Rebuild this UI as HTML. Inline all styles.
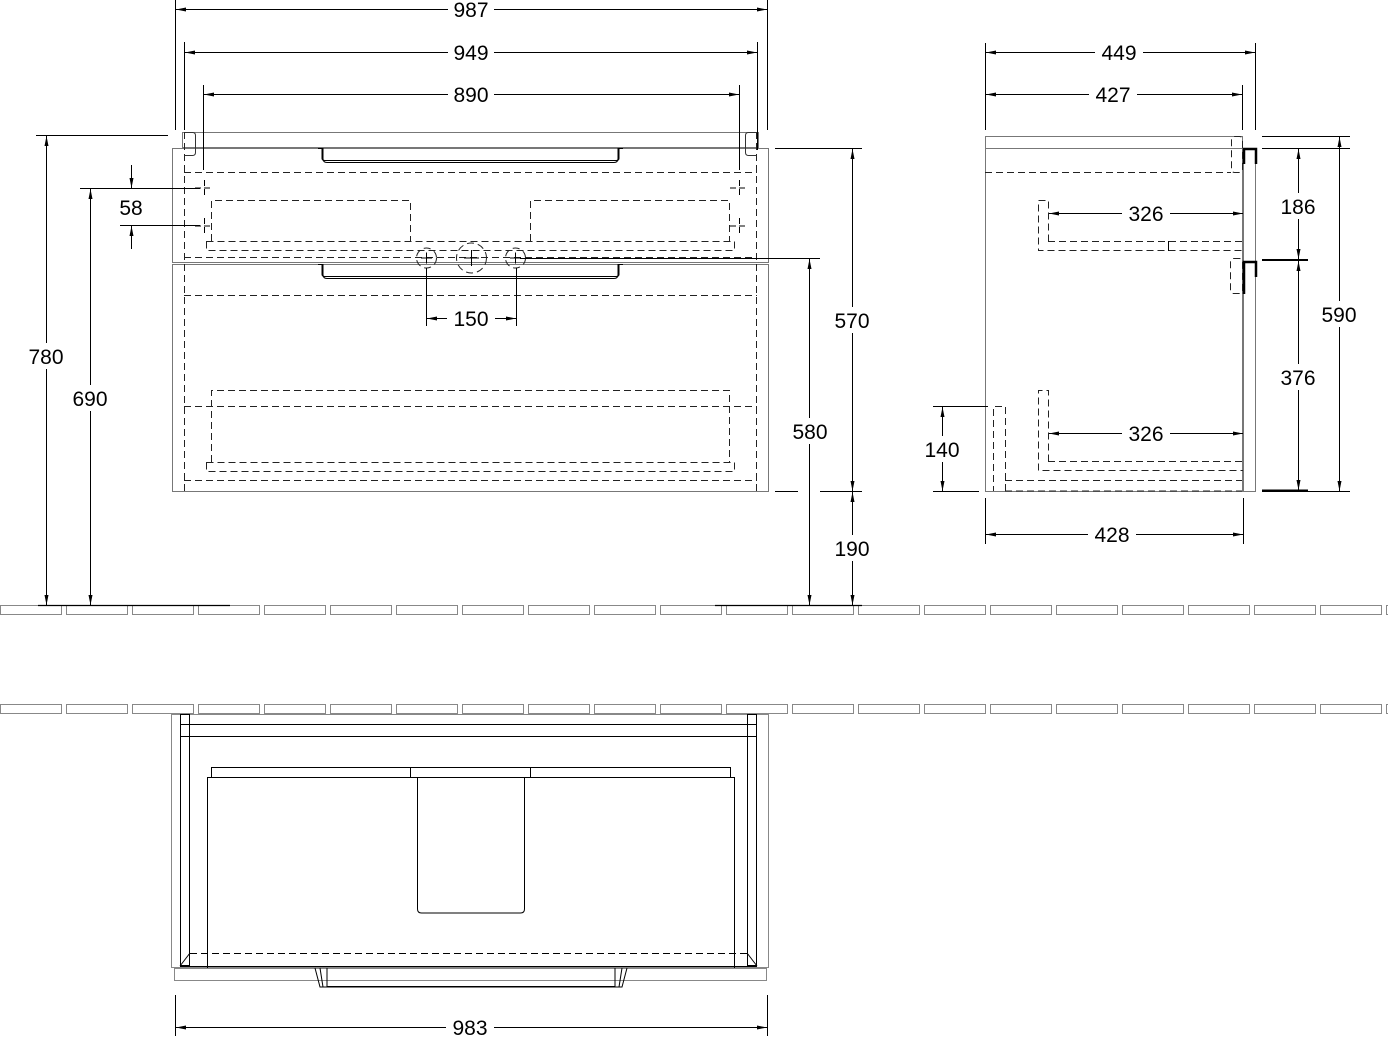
<!DOCTYPE html>
<html><head><meta charset="utf-8"><style>
html,body{margin:0;padding:0;background:#fff;}
svg{display:block;}
text{font-family:"Liberation Sans",sans-serif;font-size:21px;fill:#000;text-anchor:middle;}
.t{fill:#fff;stroke:none;}
</style></head><body>
<svg width="1388" height="1038" viewBox="0 0 1388 1038" xmlns="http://www.w3.org/2000/svg">
<defs>
<marker id="a" viewBox="0 0 10 4" refX="10" refY="2" markerWidth="10" markerHeight="4" markerUnits="userSpaceOnUse" orient="auto-start-reverse"><path d="M0,0L10,2L0,4z" fill="#000"/></marker>
<pattern id="brick" x="0" y="0" width="66" height="10" patternUnits="userSpaceOnUse"><rect x="0.5" y="0.5" width="61" height="9" fill="none" stroke="#888" stroke-width="1"/></pattern>
</defs>
<g fill="none" stroke="#000" stroke-width="1">

<!-- bricks -->
<g transform="translate(0,605)"><rect x="0" y="0" width="1388" height="10" fill="url(#brick)" stroke="none"/></g>
<g transform="translate(0,704)"><rect x="0" y="0" width="1388" height="10" fill="url(#brick)" stroke="none"/></g>
<line x1="38" y1="605.5" x2="230" y2="605.5" stroke-width="1.2"/>
<line x1="715" y1="605.5" x2="862" y2="605.5" stroke-width="1.2"/>

<!-- FRONT VIEW -->
<g stroke="#777">
<rect x="182.5" y="132.5" width="576" height="15"/>
<rect x="172.5" y="148.5" width="596" height="114"/>
<rect x="172.5" y="264.5" width="596" height="227"/>
</g>
<g stroke-dasharray="7,4" stroke="#222">
<line x1="184.5" y1="132" x2="184.5" y2="491"/>
<line x1="756.5" y1="132" x2="756.5" y2="491"/>
<line x1="184" y1="172.5" x2="757" y2="172.5"/>
<line x1="184" y1="295.5" x2="757" y2="295.5"/>
<line x1="184" y1="406.5" x2="757" y2="406.5"/>
<line x1="184" y1="480.5" x2="757" y2="480.5"/>
<polyline points="211.5,241 211.5,200.5 410.5,200.5 410.5,241"/>
<polyline points="530.5,241 530.5,200.5 729.5,200.5 729.5,241"/>
<rect x="206.5" y="241.5" width="528" height="9"/>
<line x1="184" y1="257.5" x2="757" y2="257.5"/>
<polyline points="211.5,462 211.5,390.5 729.5,390.5 729.5,462"/>
<rect x="206.5" y="462.5" width="528" height="9"/>
<circle cx="426.5" cy="258" r="10"/>
<circle cx="471.5" cy="258" r="15"/>
<circle cx="515.5" cy="258" r="10"/>
</g>
<g>
<path d="M184.5,132.5 h8 q3,0 3,3 v17 q0,3 -3,3 h-8" stroke="#333"/>
<path d="M756.5,132.5 h-8 q-3,0 -3,3 v17 q0,3 3,3 h8" stroke="#333"/>
<path d="M318,148.5 h5 v10 q0,4 4,4 h287 q4,0 4,-4 v-10 h5"/>
<path d="M322,148.5 v10 q0,2 3,2 h291 q3,0 3,-2 v-10"/>
<path d="M318,264.5 h5 v10 q0,4 4,4 h287 q4,0 4,-4 v-10 h5"/>
<path d="M322,264.5 v10 q0,2 3,2 h291 q3,0 3,-2 v-10"/>
<path d="M421,258h11M426.5,252.5v11M464,258h15M471.5,250v16M510,258h11M515.5,252.5v11"/>
<path d="M195,188h18M204.5,180v16M195,226h18M204.5,218v16M730,188h18M739.5,180v16M730,226h18M739.5,218v16" stroke-dasharray="6,3"/>
</g>

<!-- front dims -->
<line x1="175.5" y1="0" x2="175.5" y2="130"/>
<line x1="767.5" y1="0" x2="767.5" y2="130"/>
<line x1="176" y1="9.5" x2="767" y2="9.5" marker-start="url(#a)" marker-end="url(#a)"/>
<rect class="t" x="448" y="0" width="46" height="20"/><text x="471" y="17" stroke="none">987</text>
<line x1="184.5" y1="42" x2="184.5" y2="130"/>
<line x1="757.5" y1="42" x2="757.5" y2="150"/>
<line x1="185" y1="52.5" x2="757" y2="52.5" marker-start="url(#a)" marker-end="url(#a)"/>
<rect class="t" x="448" y="42" width="46" height="20"/><text x="471" y="60" stroke="none">949</text>
<line x1="203.5" y1="85" x2="203.5" y2="170"/>
<line x1="739.5" y1="85" x2="739.5" y2="170"/>
<line x1="204" y1="94.5" x2="739" y2="94.5" marker-start="url(#a)" marker-end="url(#a)"/>
<rect class="t" x="448" y="84" width="46" height="20"/><text x="471" y="102" stroke="none">890</text>

<line x1="36" y1="135.5" x2="168" y2="135.5"/>
<line x1="46.5" y1="136" x2="46.5" y2="605" marker-start="url(#a)" marker-end="url(#a)"/>
<rect class="t" x="24" y="343" width="46" height="26"/><text x="46" y="364" stroke="none">780</text>
<line x1="80" y1="188.5" x2="200" y2="188.5"/>
<line x1="90.5" y1="189" x2="90.5" y2="605" marker-start="url(#a)" marker-end="url(#a)"/>
<rect class="t" x="68" y="385" width="46" height="26"/><text x="90" y="406" stroke="none">690</text>
<line x1="120" y1="225.5" x2="200" y2="225.5"/>
<line x1="131.5" y1="165" x2="131.5" y2="188" marker-end="url(#a)"/>
<line x1="131.5" y1="249" x2="131.5" y2="226" marker-end="url(#a)"/>
<text x="131" y="215" stroke="none">58</text>

<line x1="426.5" y1="268" x2="426.5" y2="326"/>
<line x1="516.5" y1="268" x2="516.5" y2="326"/>
<line x1="427" y1="318.5" x2="516" y2="318.5" marker-start="url(#a)" marker-end="url(#a)"/>
<rect class="t" x="447" y="306" width="48" height="24"/><text x="471" y="326" stroke="none">150</text>

<line x1="775" y1="148.5" x2="862" y2="148.5"/>
<line x1="775" y1="491.5" x2="798" y2="491.5"/>
<line x1="820" y1="491.5" x2="862" y2="491.5"/>
<line x1="852.5" y1="149" x2="852.5" y2="491" marker-start="url(#a)" marker-end="url(#a)"/>
<rect class="t" x="828" y="307" width="48" height="26"/><text x="852" y="328" stroke="none">570</text>
<line x1="852.5" y1="492" x2="852.5" y2="605" marker-start="url(#a)" marker-end="url(#a)"/>
<rect class="t" x="828" y="535" width="48" height="26"/><text x="852" y="556" stroke="none">190</text>
<line x1="520" y1="258.5" x2="820" y2="258.5"/>
<line x1="809.5" y1="259" x2="809.5" y2="605" marker-start="url(#a)" marker-end="url(#a)"/>
<rect class="t" x="786" y="418" width="48" height="26"/><text x="810" y="439" stroke="none">580</text>

<!-- SIDE VIEW -->
<g stroke="#777">
<rect x="985.5" y="136.5" width="257" height="355"/>
<line x1="985" y1="148.5" x2="1242" y2="148.5"/>
<rect x="1243.5" y="148.5" width="12" height="343"/>
</g>
<g stroke-dasharray="7,4" stroke="#222">
<line x1="985" y1="172.5" x2="1231" y2="172.5"/>
<rect x="1231.5" y="136.5" width="11" height="36" rx="3"/>
<rect x="1230.5" y="258.5" width="12" height="35" rx="3"/>
<polyline points="1048.5,241.5 1048.5,200.5 1038.5,200.5 1038.5,250.5 1243,250.5"/>
<line x1="1048" y1="241.5" x2="1243" y2="241.5"/>
<polyline points="1048.5,461.5 1048.5,390.5 1038.5,390.5 1038.5,470.5 1243,470.5"/>
<line x1="1048" y1="461.5" x2="1243" y2="461.5"/>
<polyline points="1005.5,491 1005.5,406.5 993.5,406.5 993.5,491"/>
<line x1="1005" y1="480.5" x2="1242" y2="480.5"/>
<line x1="1005" y1="491" x2="1242" y2="491"/>
</g>
<g stroke-width="2.5">
<path d="M1244,164 v-15 h12 v15"/>
<path d="M1244,294 v-32 h12 v15"/>
</g>
<line x1="1168.5" y1="241" x2="1168.5" y2="251"/>
<line x1="1262" y1="148.5" x2="1350" y2="148.5"/>
<line x1="1262" y1="136.5" x2="1350" y2="136.5"/>
<line x1="1262" y1="260" x2="1308" y2="260" stroke-width="2"/>
<line x1="1262" y1="490.5" x2="1308" y2="490.5" stroke-width="2"/>
<line x1="1262" y1="491.5" x2="1350" y2="491.5"/>
<line x1="1298.5" y1="149" x2="1298.5" y2="259" marker-start="url(#a)" marker-end="url(#a)"/>
<rect class="t" x="1274" y="193" width="48" height="26"/><text x="1298" y="214" stroke="none">186</text>
<line x1="1298.5" y1="261" x2="1298.5" y2="490" marker-start="url(#a)" marker-end="url(#a)"/>
<rect class="t" x="1274" y="364" width="48" height="26"/><text x="1298" y="385" stroke="none">376</text>
<line x1="1339.5" y1="137" x2="1339.5" y2="491" marker-start="url(#a)" marker-end="url(#a)"/>
<rect class="t" x="1315" y="301" width="48" height="26"/><text x="1339" y="322" stroke="none">590</text>
<line x1="985.5" y1="43" x2="985.5" y2="130"/>
<line x1="1255.5" y1="43" x2="1255.5" y2="130"/>
<line x1="986" y1="52.5" x2="1255" y2="52.5" marker-start="url(#a)" marker-end="url(#a)"/>
<rect class="t" x="1095" y="42" width="48" height="20"/><text x="1119" y="60" stroke="none">449</text>
<line x1="1242.5" y1="85" x2="1242.5" y2="130"/>
<line x1="986" y1="94.5" x2="1242" y2="94.5" marker-start="url(#a)" marker-end="url(#a)"/>
<rect class="t" x="1089" y="84" width="48" height="20"/><text x="1113" y="102" stroke="none">427</text>
<line x1="1049" y1="213.5" x2="1243" y2="213.5" marker-start="url(#a)" marker-end="url(#a)"/>
<rect class="t" x="1122" y="201" width="48" height="24"/><text x="1146" y="221" stroke="none">326</text>
<line x1="1049" y1="433.5" x2="1243" y2="433.5" marker-start="url(#a)" marker-end="url(#a)"/>
<rect class="t" x="1122" y="421" width="48" height="24"/><text x="1146" y="441" stroke="none">326</text>
<line x1="933" y1="406.5" x2="988" y2="406.5"/>
<line x1="933" y1="491.5" x2="979" y2="491.5"/>
<line x1="942.5" y1="407" x2="942.5" y2="491" marker-start="url(#a)" marker-end="url(#a)"/>
<rect class="t" x="918" y="436" width="48" height="26"/><text x="942" y="457" stroke="none">140</text>
<line x1="985.5" y1="498" x2="985.5" y2="544"/>
<line x1="1243.5" y1="498" x2="1243.5" y2="544"/>
<line x1="986" y1="534.5" x2="1243" y2="534.5" marker-start="url(#a)" marker-end="url(#a)"/>
<rect class="t" x="1088" y="522" width="48" height="24"/><text x="1112" y="542" stroke="none">428</text>

<!-- BOTTOM VIEW -->
<g stroke="#888">
<rect x="171.5" y="714.5" width="597" height="253"/>
<rect x="174.5" y="968.5" width="592" height="12"/>
</g>
<rect x="180.5" y="714.5" width="9" height="251"/>
<rect x="747.5" y="714.5" width="9" height="251"/>
<line x1="180" y1="724.5" x2="757" y2="724.5"/>
<line x1="180" y1="736.5" x2="757" y2="736.5"/>
<rect x="211.5" y="767.5" width="519" height="10"/>
<line x1="410.5" y1="767" x2="410.5" y2="777"/>
<line x1="530.5" y1="767" x2="530.5" y2="777"/>
<polyline points="207.5,968 207.5,777.5 734.5,777.5 734.5,968"/>
<path d="M417.5,778 v131 q0,4 4,4 h99 q4,0 4,-4 v-131"/>
<line x1="190" y1="953.5" x2="747" y2="953.5" stroke-dasharray="7,4"/>
<line x1="180" y1="966.5" x2="757" y2="966.5"/>
<line x1="180" y1="966" x2="190" y2="953"/>
<line x1="757" y1="966" x2="747" y2="953"/>
<path d="M315,968 l5,19 h302 l5,-19"/>
<path d="M320,968 l3,19 M622,968 l-3,19 M327,968 v19 M615,968 v19 M327,986.5 h288"/>
<line x1="175.5" y1="995" x2="175.5" y2="1036"/>
<line x1="767.5" y1="995" x2="767.5" y2="1036"/>
<line x1="176" y1="1027.5" x2="767" y2="1027.5" marker-start="url(#a)" marker-end="url(#a)"/>
<rect class="t" x="446" y="1015" width="48" height="23"/><text x="470" y="1035" stroke="none">983</text>
</g>
</svg>
</body></html>
